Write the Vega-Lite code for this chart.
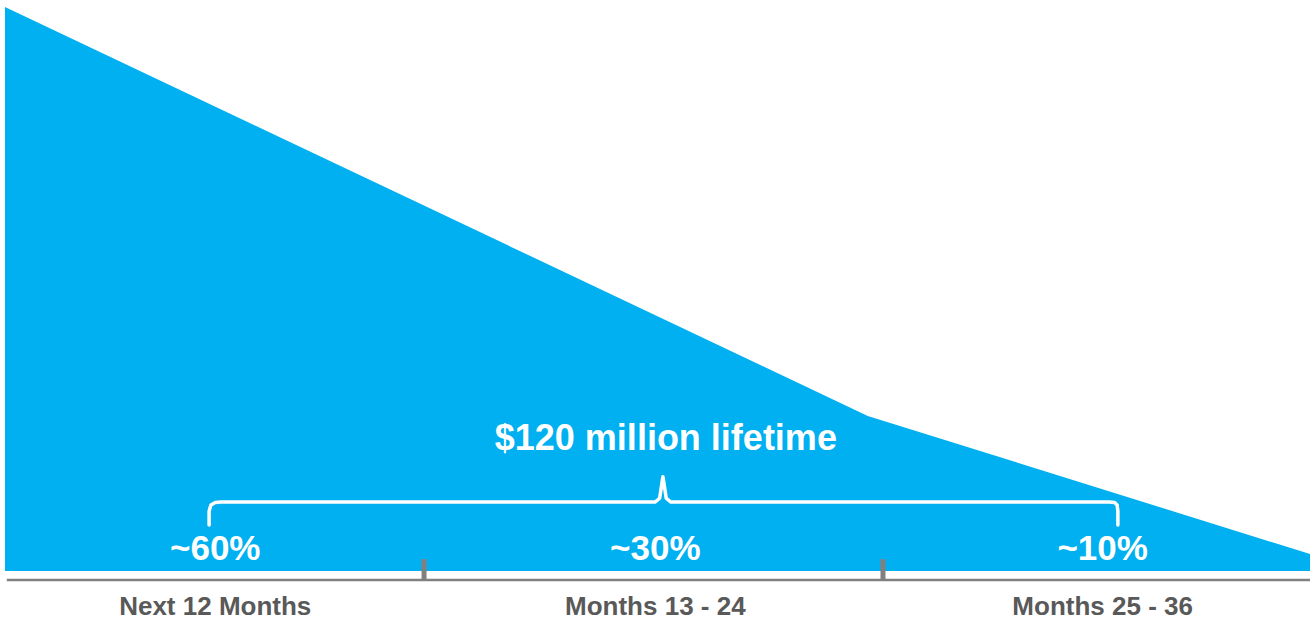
{
  "$schema": "https://vega.github.io/schema/vega-lite/v6.json",
  "width": 1310,
  "height": 618,
  "padding": 0,
  "autosize": {"type": "fit", "contains": "padding"},
  "background": "white",
  "config": {"view": {"stroke": null}},
  "datasets": {
    "curve": [
      {"month": 0, "share": 100},
      {"month": 23.8, "share": 27.5},
      {"month": 36, "share": 3.0}
    ],
    "baseline": [
      {"month": 0.05, "share": -1.6},
      {"month": 36, "share": -1.6}
    ],
    "boundaries": [
      {"month": 11.56, "top": 2.1, "bottom": -1.6},
      {"month": 24.22, "top": 2.1, "bottom": -1.6}
    ],
    "periods": [
      {"period": "Next 12 Months", "mid": 5.8, "pct": "~60%"},
      {"period": "Months 13 - 24", "mid": 17.94, "pct": "~30%"},
      {"period": "Months 25 - 36", "mid": 30.28, "pct": "~10%"}
    ],
    "brace": [
      {"i": 0, "month": 5.63, "share": 8.16},
      {"i": 1, "month": 5.63, "share": 10.6},
      {"i": 2, "month": 5.68, "share": 11.7},
      {"i": 3, "month": 5.8, "share": 12.15},
      {"i": 4, "month": 5.95, "share": 12.23},
      {"i": 5, "month": 17.93, "share": 12.23},
      {"i": 6, "month": 18.06, "share": 12.9},
      {"i": 7, "month": 18.12, "share": 15.5},
      {"i": 8, "month": 18.15, "share": 16.7},
      {"i": 9, "month": 18.18, "share": 15.5},
      {"i": 10, "month": 18.24, "share": 12.9},
      {"i": 11, "month": 18.37, "share": 12.23},
      {"i": 12, "month": 30.46, "share": 12.23},
      {"i": 13, "month": 30.61, "share": 12.15},
      {"i": 14, "month": 30.68, "share": 11.7},
      {"i": 15, "month": 30.7, "share": 10.6},
      {"i": 16, "month": 30.7, "share": 8.16}
    ],
    "total": [
      {"label": "$120 million lifetime", "month": 18.23, "share": 21.45}
    ]
  },
  "encoding": {
    "x": {
      "field": "month",
      "type": "quantitative",
      "scale": {"domain": [0, 36], "range": [5, 1310], "nice": false, "zero": false},
      "axis": null
    }
  },
  "layer": [
    {
      "data": {"name": "curve"},
      "mark": {"type": "area", "color": "#00B0F0", "interpolate": "linear"},
      "encoding": {
        "y": {
          "field": "share",
          "type": "quantitative",
          "scale": {"domain": [0, 100], "range": [571, 7], "nice": false, "zero": false},
          "axis": null
        }
      }
    },
    {
      "data": {"name": "baseline"},
      "mark": {"type": "line", "color": "#808080", "strokeWidth": 2.5},
      "encoding": {
        "y": {"field": "share", "type": "quantitative"}
      }
    },
    {
      "data": {"name": "boundaries"},
      "mark": {"type": "rule", "color": "#808080", "strokeWidth": 5},
      "encoding": {
        "y": {"field": "top", "type": "quantitative"},
        "y2": {"field": "bottom"}
      }
    },
    {
      "data": {"name": "brace"},
      "mark": {"type": "line", "color": "white", "strokeWidth": 3.5, "strokeCap": "round", "strokeJoin": "round", "interpolate": "linear"},
      "encoding": {
        "y": {"field": "share", "type": "quantitative"},
        "order": {"field": "i", "type": "quantitative"}
      }
    },
    {
      "data": {"name": "total"},
      "mark": {"type": "text", "color": "white", "font": "Liberation Sans", "fontWeight": "bold", "fontSize": 36, "align": "center", "baseline": "alphabetic"},
      "encoding": {
        "y": {"field": "share", "type": "quantitative"},
        "text": {"field": "label"}
      }
    },
    {
      "data": {"name": "periods"},
      "mark": {"type": "text", "color": "white", "font": "Liberation Sans", "fontWeight": "bold", "fontSize": 35, "align": "center", "baseline": "alphabetic"},
      "encoding": {
        "x": {"field": "mid", "type": "quantitative"},
        "y": {"datum": 1.95, "type": "quantitative"},
        "text": {"field": "pct"}
      }
    },
    {
      "data": {"name": "periods"},
      "mark": {"type": "text", "color": "#595959", "font": "Liberation Sans", "fontWeight": "bold", "fontSize": 26, "align": "center", "baseline": "alphabetic"},
      "encoding": {
        "x": {"field": "mid", "type": "quantitative"},
        "y": {"datum": -7.85, "type": "quantitative"},
        "text": {"field": "period"}
      }
    }
  ]
}
